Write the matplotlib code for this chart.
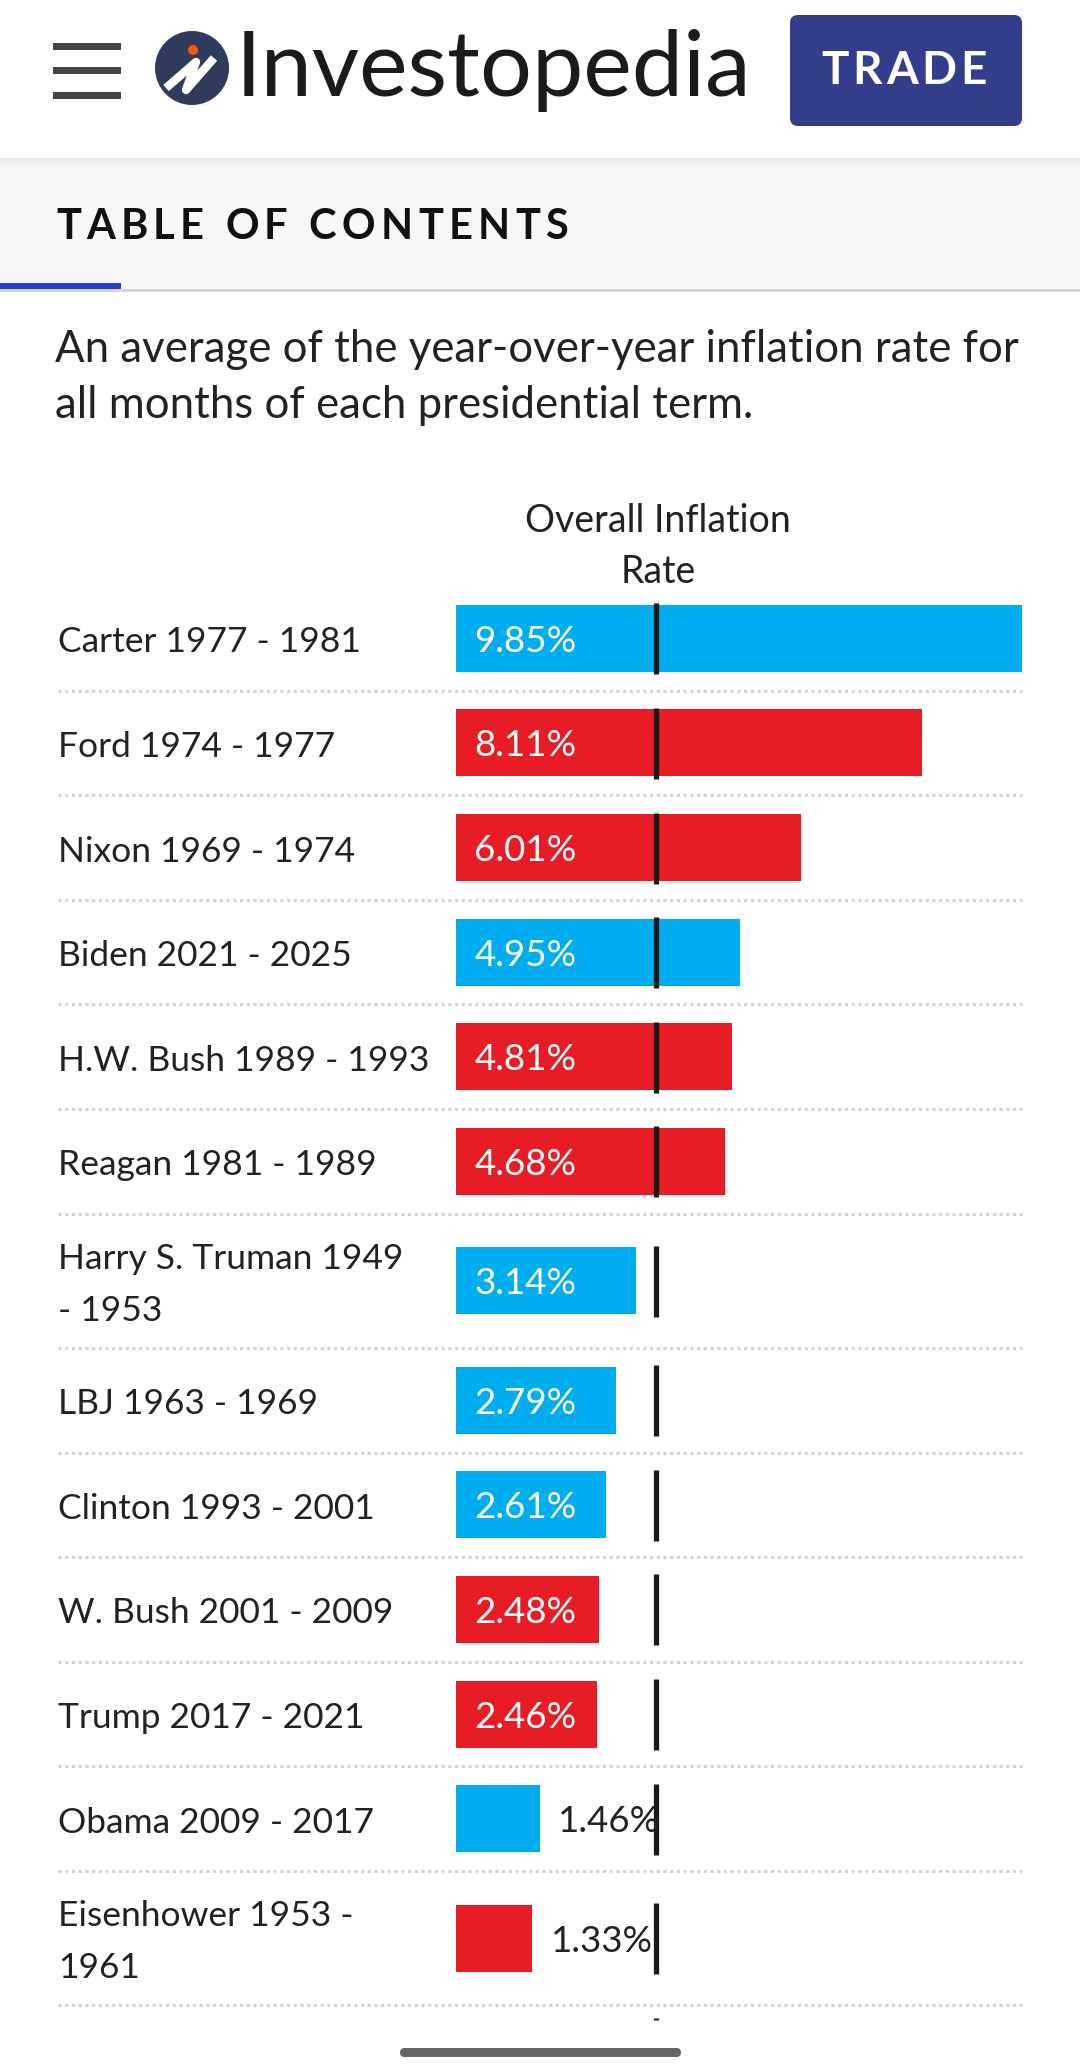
import matplotlib.pyplot as plt
from matplotlib.patches import Rectangle, FancyBboxPatch, Circle

plt.rcParams['font.family'] = ['Lato', 'DejaVu Sans']

# data
presidents = ['Carter 1977 - 1981', 'Ford 1974 - 1977', 'Nixon 1969 - 1974',
              'Biden 2021 - 2025', 'H.W. Bush 1989 - 1993', 'Reagan 1981 - 1989',
              'Harry S. Truman 1949\n- 1953', 'LBJ 1963 - 1969', 'Clinton 1993 - 2001',
              'W. Bush 2001 - 2009', 'Trump 2017 - 2021', 'Obama 2009 - 2017',
              'Eisenhower 1953 -\n1961']
inflation = [9.85, 8.11, 6.01, 4.95, 4.81, 4.68, 3.14, 2.79, 2.61, 2.48, 2.46, 1.46, 1.33]
party = ['D', 'R', 'R', 'D', 'R', 'R', 'D', 'D', 'D', 'R', 'R', 'D', 'R']
ref_line = 3.48  # black marker line drawn on every row

party_col = {'D': '#00AEEF', 'R': '#E81C24'}

W, H = 1080, 2066
fig = plt.figure(figsize=(W / 100, H / 100), dpi=100)
fig.patch.set_facecolor('white')

# page axes in pixel coordinates
pg = fig.add_axes([0, 0, 1, 1])
pg.set_xlim(0, W)
pg.set_ylim(H, 0)
pg.axis('off')
rend = fig.canvas.get_renderer()


def spaced(x, y, s, width, **kw):
    # letter-spaced text: put chars one by one so the whole string spans `width` px
    arts, ws = [], []
    for ch in s:
        t = pg.text(x, y, ch, ha='left', va='center', **kw)
        w = t.get_window_extent(renderer=rend).width
        if ch == ' ':
            w = kw['fontsize'] * 0.35
        arts.append(t)
        ws.append(w)
    track = (width - sum(ws)) / (len(s) - 1)
    for t, w in zip(arts, ws):
        t.set_x(x)
        x += w + track


# ---- header ----
for yy in (46, 70, 95):
    pg.add_patch(Rectangle((53, yy - 3.5), 68, 7, color='#454545', lw=0))
pg.add_patch(Circle((192, 68), 37, color='#2F3A5C', lw=0))
pg.plot([166, 196, 186, 214], [88, 62, 90, 58], color='white', lw=6, solid_capstyle='butt')
pg.add_patch(Circle((193, 50), 5, color='#F25C05', lw=0))
pg.text(236, 70, 'Investopedia', fontsize=66, color='#1B1B1B', va='center', ha='left')
pg.add_patch(FancyBboxPatch((790, 15), 232, 111, boxstyle='round,pad=0,rounding_size=8',
                            color='#323E8B', lw=0))
spaced(821, 71, 'TRADE', 166, fontsize=33, color='white', fontweight='bold')

# shadow + table of contents band
for k in range(10):
    pg.add_patch(Rectangle((0, 158 + k), W, 1, color='black', alpha=0.05 * (1 - k / 10), lw=0))
pg.add_patch(Rectangle((0, 158), W, 132, color='#F7F7F7', lw=0, zorder=0))
spaced(56, 227, 'TABLE OF CONTENTS', 512, fontsize=30, fontweight='bold', color='#111111')
pg.add_patch(Rectangle((0, 289), W, 3, color='#D6D6D6', lw=0))
pg.add_patch(Rectangle((0, 283), 121, 6, color='#2A3FD1', lw=0))

# subtitle
pg.text(55, 349, 'An average of the year-over-year inflation rate for', fontsize=31.5,
        color='#222222', ha='left', va='center')
pg.text(55, 405, 'all months of each presidential term.', fontsize=31.5,
        color='#222222', ha='left', va='center')

# column header
pg.text(658, 521, 'Overall Inflation', fontsize=27, color='#222222', ha='center', va='center')
pg.text(658, 572, 'Rate', fontsize=27, color='#222222', ha='center', va='center')

# ---- bars ----
x0, x_per = 456, (1022 - 456) / 9.85
bx = fig.add_axes([x0 / W, 0, (W - x0) / W, 1])
bx.set_xlim(0, (W - x0) / x_per)
bx.set_ylim(H, 0)
bx.axis('off')

row_h1, row_h2 = 104.6, 134.4
top = 586
for name, val, p in zip(presidents, inflation, party):
    rh = row_h2 if '\n' in name else row_h1
    yc = top + rh / 2
    pg.text(58, yc + 4, name, fontsize=25.5, color='#222222', ha='left', va='center',
            linespacing=1.75)
    bx.barh(yc, val, height=67, color=party_col[p], lw=0)
    bx.plot([ref_line, ref_line], [yc - 35, yc + 36], color='#1A1A1A', lw=3.8,
            solid_capstyle='butt')
    if val > 2:
        bx.text(0.32, yc + 3, f'{val:.2f}%', fontsize=26.5, color='white', ha='left', va='center')
    else:
        bx.text(val + 0.32, yc + 3, f'{val:.2f}%', fontsize=26.5, color='#222222',
                ha='left', va='center')
    top += rh
    pg.plot([58, 1022], [top, top], color='#D3D3D3', lw=2.2, ls=(0, (1, 1.2)))

# cut-off marker of the next row
bx.plot([ref_line, ref_line], [top + 13, top + 15], color='#1A1A1A', lw=3.8,
        solid_capstyle='butt')

# home indicator
pg.add_patch(FancyBboxPatch((400, 2048), 281, 9, boxstyle='round,pad=0,rounding_size=4.5',
                            color='#666666', lw=0))

fig.savefig('out.png', dpi=100, facecolor='white')
